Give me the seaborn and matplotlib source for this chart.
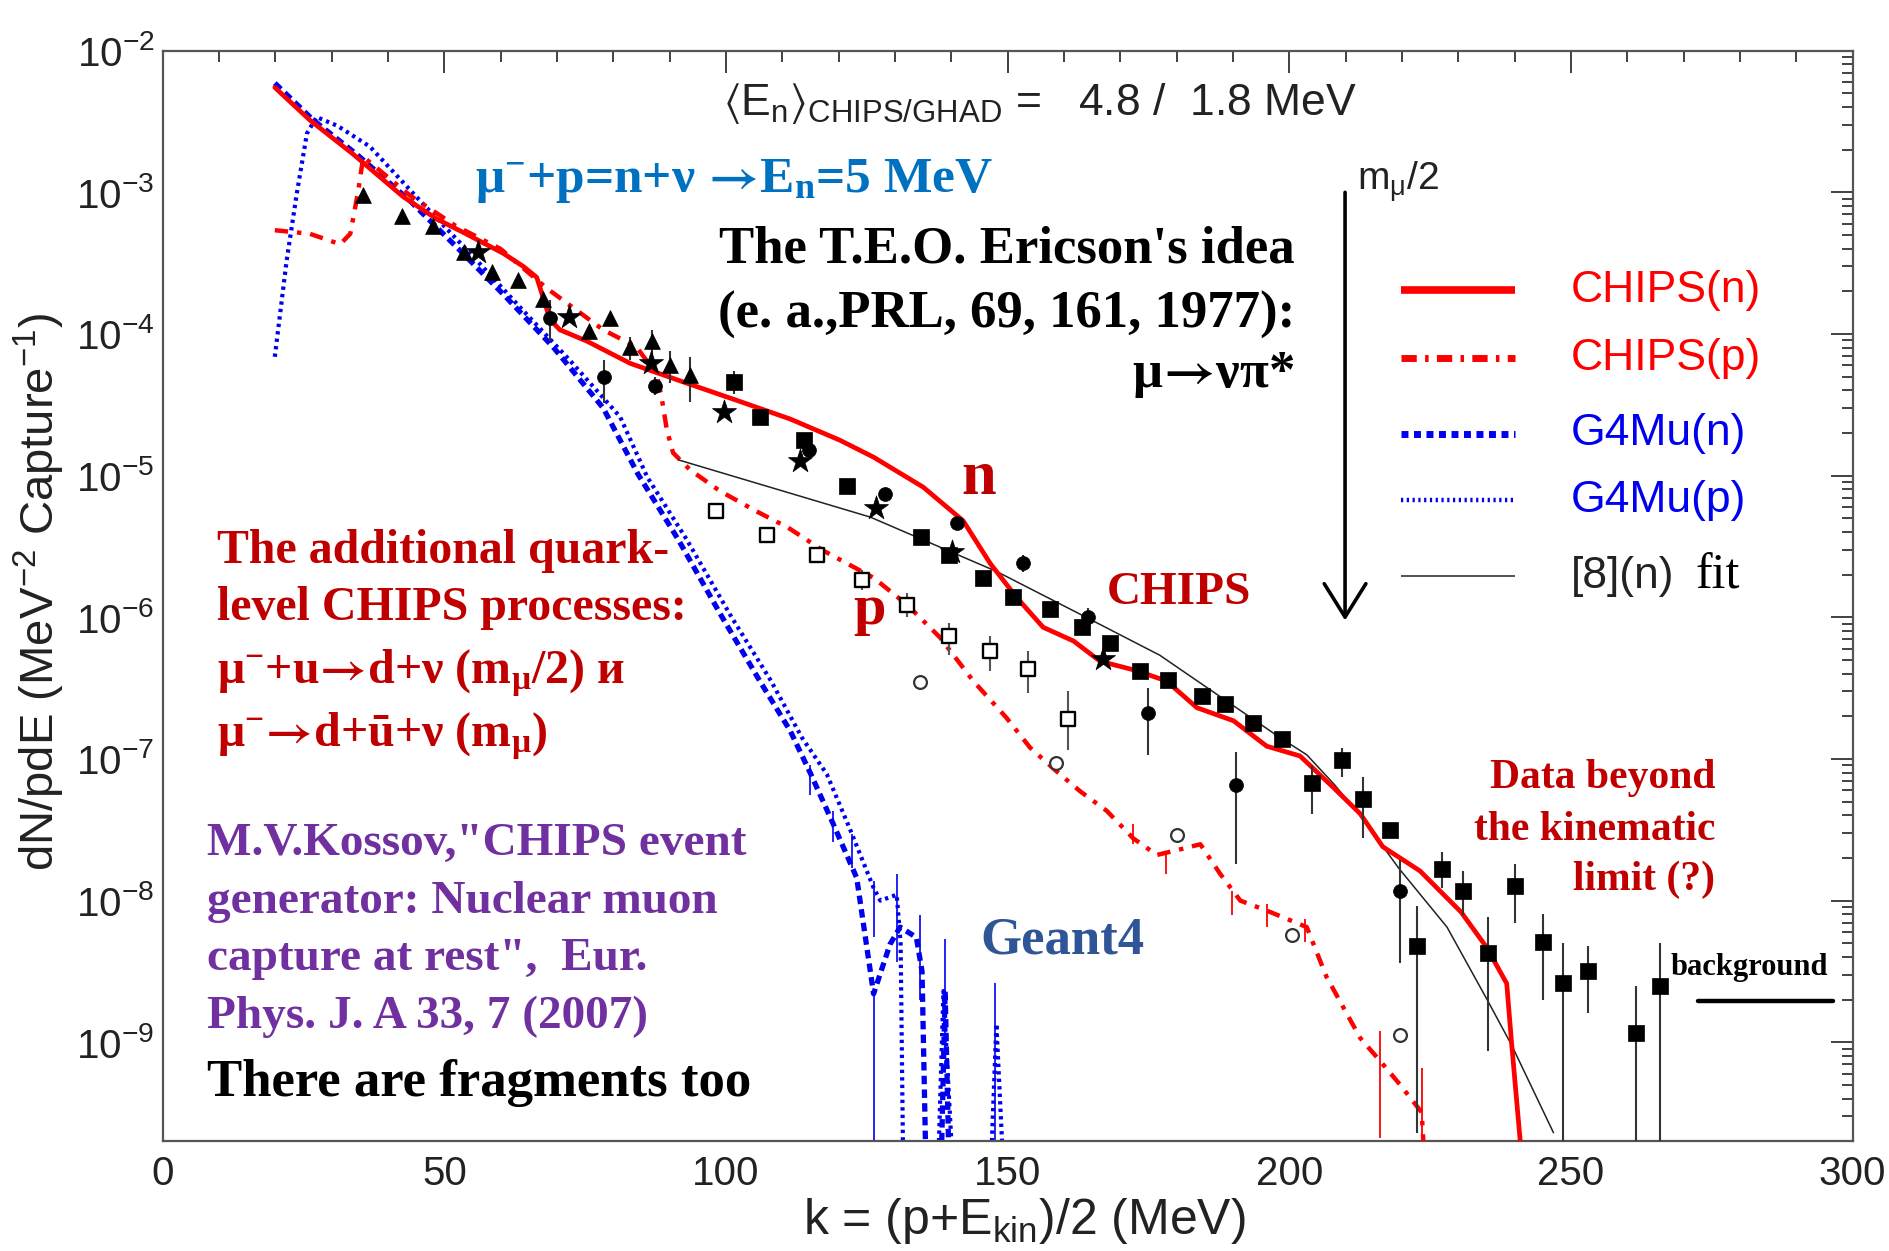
import numpy as np
import matplotlib
matplotlib.use("Agg")
import matplotlib.pyplot as plt
import seaborn as sns
from matplotlib.ticker import MultipleLocator, LogLocator, NullFormatter

# ---------------- data ----------------
# CHIPS(n) - red solid
chips_n_x = [19.9, 26.1, 33.8, 42.7, 48.6, 53.4, 60.5, 64.0, 66.4, 68.0, 68.8, 70.5, 75.3, 83.0,
             93.0, 101.9, 111.4, 120.2, 126.2, 135.0, 142.1, 146.9, 151.6, 156.3, 161.7, 166.4,
             172.9, 178.2, 183.6, 190.1, 196.0, 201.9, 207.8, 212.6, 216.6, 223.2, 230.5, 235.0,
             238.6, 239.5, 241.0]
chips_n_y = [5.5e-3, 3.24e-3, 1.86e-3, 9.3e-4, 6.5e-4, 5.2e-4, 3.7e-4, 3.0e-4, 2.51e-4, 1.58e-4,
             1.26e-4, 1.07e-4, 8.9e-5, 6.2e-5, 4.5e-5, 3.4e-5, 2.51e-5, 1.78e-5, 1.35e-5, 8.3e-6,
             4.8e-6, 2.4e-6, 1.38e-6, 8.5e-7, 6.8e-7, 4.9e-7, 4.2e-7, 3.55e-7, 2.3e-7, 1.86e-7,
             1.23e-7, 1.05e-7, 6.3e-8, 4.1e-8, 2.4e-8, 1.62e-8, 8.3e-9, 4.7e-9, 2.6e-9, 9.5e-10,
             2.0e-10]

# CHIPS(p) - red dash-dot
chips_p_x = [19.9, 26.1, 31.5, 33.3, 34.7, 35.6, 43.9, 52.0, 60.0, 68.2, 78.2, 84.1, 87.7, 88.6,
             89.5, 90.6, 93.6, 98.9, 105.4, 111.0, 117.3, 126.2, 132.1, 138.0, 143.9, 149.8, 154.0,
             158.5, 162.9, 167.6, 172.3, 176.5, 180.6, 184.2, 187.7, 191.3, 196.0, 203.1, 206.6,
             212.6, 216.1, 219.7, 223.5, 223.8]
chips_p_y = [5.4e-4, 5.1e-4, 4.3e-4, 5.1e-4, 1.02e-3, 1.78e-3, 9.5e-4, 5.8e-4, 3.98e-4, 2.1e-4,
             1.07e-4, 8.1e-5, 5.2e-5, 3.5e-5, 2.1e-5, 1.45e-5, 1.1e-5, 7.8e-6, 5.6e-6, 4.3e-6,
             2.95e-6, 1.9e-6, 1.23e-6, 7.2e-7, 3.55e-7, 1.95e-7, 1.2e-7, 8.3e-8, 5.9e-8, 4.3e-8,
             2.75e-8, 2.1e-8, 2.3e-8, 2.5e-8, 1.55e-8, 1.0e-8, 8.5e-9, 6.5e-9, 2.9e-9, 1.07e-9,
             7.4e-10, 5.0e-10, 3.2e-10, 2.0e-10]
chips_p_err_x = [172.3, 178.2, 189.8, 196.0, 202.8, 216.1, 223.5]
chips_p_err_lo = [2.5e-8, 1.55e-8, 7.9e-9, 6.5e-9, 5.1e-9, 2.1e-10, 2.0e-10]
chips_p_err_hi = [3.5e-8, 2.24e-8, 1.17e-8, 9.5e-9, 7.4e-9, 1.2e-9, 6.6e-10]

# G4Mu(n) - blue dashed
g4n_x = [19.9, 26.7, 34.4, 43.9, 52.2, 60.5, 69.3, 78.2, 84.4, 91.5, 99.2, 106.0, 111.4, 115.0,
         119.0, 123.2, 126.2, 129.1, 130.9, 133.8, 134.8, 135.4]
g4n_y = [5.9e-3, 3.24e-3, 1.86e-3, 8.7e-4, 4.1e-4, 1.9e-4, 8.1e-5, 3.0e-5, 1.02e-5, 3.55e-6,
         1.02e-6, 3.55e-7, 1.58e-7, 7.9e-8, 3.5e-8, 1.45e-8, 2.2e-9, 4.9e-9, 6.5e-9, 5.5e-9,
         3.16e-9, 2.0e-10]
g4n_spike_x = [138.3, 138.9, 139.5]
g4n_spike_y = [2.0e-10, 2.3e-9, 2.0e-10]

# G4Mu(p) - blue dotted
g4p_x = [19.9, 22.0, 23.8, 25.6, 27.3, 31.0, 36.8, 45.7, 54.6, 63.4, 72.3, 81.2, 86.0, 93.0,
         101.0, 108.0, 113.5, 117.9, 122.0, 126.2, 127.4, 130.3, 131.0, 131.4]
g4p_y = [6.9e-5, 3.3e-4, 9.8e-4, 2.6e-3, 3.4e-3, 2.95e-3, 2.1e-3, 8.7e-4, 3.7e-4, 1.55e-4,
         6.5e-5, 2.6e-5, 9.8e-6, 3.55e-6, 1.0e-6, 3.55e-7, 1.41e-7, 7.8e-8, 3.2e-8, 1.23e-8,
         1.0e-8, 1.1e-8, 5.0e-9, 2.0e-10]
g4p_spike_x = [137.8, 138.6, 140.0, 147.2, 148.0, 149.0]
g4p_spike_y = [2.0e-10, 2.3e-9, 2.0e-10, 2.0e-10, 1.35e-9, 2.0e-10]
g4p_spike_id = [1, 1, 1, 2, 2, 2]

g4_err_x = [114.9, 119.0, 122.3, 126.2, 126.2, 130.3, 134.4, 138.9, 147.8]
g4_err_lo = [5.6e-8, 2.6e-8, 1.7e-8, 5.5e-9, 2.0e-10, 3.7e-9, 2.0e-9, 9.1e-10, 2.0e-10]
g4_err_hi = [9.1e-8, 4.3e-8, 2.95e-8, 1.38e-8, 2.2e-9, 1.55e-8, 7.9e-9, 5.4e-9, 2.6e-9]

# [8](n) fit - thin black
fit_x = [91.6, 125.6, 148.1, 162.9, 177.0, 198.4, 203.1, 208.0, 213.0, 219.4, 228.0, 235.0,
         239.5, 246.9]
fit_y = [1.29e-5, 5.1e-6, 2.1e-6, 1.05e-6, 5.4e-7, 1.41e-7, 1.07e-7, 6.6e-8, 3.8e-8, 1.7e-8,
         6.5e-9, 2.04e-9, 9.5e-10, 2.3e-10]

# experimental points
tri_x = [35.5, 42.4, 47.9, 53.4, 58.4, 63.1, 67.5, 75.6, 79.4, 83.0, 86.8, 90.1, 93.6]
tri_y = [9.5e-4, 6.8e-4, 5.75e-4, 3.8e-4, 2.75e-4, 2.4e-4, 1.78e-4, 1.05e-4, 1.29e-4, 8.1e-5,
         8.9e-5, 6.0e-5, 5.1e-5]
tri_lo = [9.5e-4, 6.8e-4, 5.75e-4, 3.8e-4, 2.75e-4, 2.4e-4, 1.78e-4, 1.05e-4, 1.29e-4, 6.5e-5,
          6.9e-5, 4.5e-5, 3.3e-5]
tri_hi = [9.5e-4, 6.8e-4, 5.75e-4, 3.8e-4, 2.75e-4, 2.4e-4, 1.78e-4, 1.05e-4, 1.29e-4, 9.5e-5,
          1.07e-4, 7.6e-5, 6.9e-5]

star_x = [56.0, 72.2, 86.7, 99.7, 113.1, 126.7, 140.2, 167.0]
star_y = [3.8e-4, 1.32e-4, 6.2e-5, 2.8e-5, 1.26e-5, 5.9e-6, 2.9e-6, 5.1e-7]

circ_x = [68.7, 78.3, 87.4, 114.8, 128.3, 141.0, 152.8, 164.3, 175.0, 190.6, 219.7]
circ_y = [1.29e-4, 5.0e-5, 4.3e-5, 1.51e-5, 7.4e-6, 4.6e-6, 2.4e-6, 1.0e-6, 2.1e-7, 6.5e-8, 1.17e-8]
circ_lo = [8.9e-5, 3.24e-5, 3.7e-5, 1.51e-5, 7.4e-6, 4.6e-6, 2.1e-6, 8.5e-7, 1.07e-7, 1.82e-8, 3.6e-9]
circ_hi = [1.74e-4, 6.5e-5, 5.0e-5, 1.51e-5, 7.4e-6, 4.6e-6, 2.75e-6, 1.17e-6, 3.16e-7, 1.12e-7, 1.95e-8]

sq_x = [101.4, 106.0, 113.9, 121.5, 134.6, 139.6, 145.7, 151.0, 157.5, 163.2, 168.2, 173.5,
        178.5, 184.5, 188.6, 193.6, 198.7, 204.0, 209.3, 213.1, 217.9, 222.6, 227.1, 230.9,
        235.2, 240.0, 245.1, 248.6, 253.1, 261.6, 265.8]
sq_y = [4.6e-5, 2.6e-5, 1.78e-5, 8.5e-6, 3.7e-6, 2.75e-6, 1.9e-6, 1.38e-6, 1.15e-6, 8.5e-7,
        6.6e-7, 4.2e-7, 3.6e-7, 2.8e-7, 2.45e-7, 1.78e-7, 1.38e-7, 6.8e-8, 9.8e-8, 5.2e-8,
        3.16e-8, 4.8e-9, 1.66e-8, 1.17e-8, 4.3e-9, 1.26e-8, 5.1e-9, 2.6e-9, 3.16e-9, 1.17e-9, 2.5e-9]
sq_lo = [3.8e-5, 2.6e-5, 1.78e-5, 8.5e-6, 3.7e-6, 2.75e-6, 1.9e-6, 1.38e-6, 1.15e-6, 8.5e-7,
         6.6e-7, 4.2e-7, 3.6e-7, 2.8e-7, 2.45e-7, 1.78e-7, 1.38e-7, 4.1e-8, 7.4e-8, 2.75e-8,
         2.8e-8, 2.3e-10, 1.23e-8, 7.9e-9, 8.7e-10, 6.9e-9, 2.0e-9, 2.0e-10, 1.62e-9, 2.0e-10, 2.0e-10]
sq_hi = [5.5e-5, 2.6e-5, 1.78e-5, 8.5e-6, 3.7e-6, 2.75e-6, 1.9e-6, 1.38e-6, 1.15e-6, 8.5e-7,
         6.6e-7, 4.2e-7, 3.6e-7, 2.8e-7, 2.45e-7, 1.78e-7, 1.38e-7, 9.1e-8, 1.2e-7, 7.4e-8,
         3.5e-8, 9.1e-9, 2.2e-8, 1.62e-8, 7.6e-9, 1.82e-8, 8.1e-9, 5.0e-9, 4.8e-9, 2.5e-9, 5.0e-9]

osq_x = [98.3, 107.2, 116.1, 124.1, 132.1, 139.5, 146.9, 153.7, 160.8]
osq_y = [5.6e-6, 3.8e-6, 2.75e-6, 1.82e-6, 1.23e-6, 7.4e-7, 5.75e-7, 4.3e-7, 1.9e-7]
osq_lo = [5.6e-6, 3.8e-6, 2.5e-6, 1.55e-6, 1.0e-6, 5.4e-7, 4.2e-7, 2.9e-7, 1.15e-7]
osq_hi = [5.6e-6, 3.8e-6, 3.0e-6, 2.14e-6, 1.48e-6, 9.1e-7, 7.4e-7, 5.75e-7, 3.0e-7]

ocirc_x = [134.4, 158.6, 180.1, 200.4, 219.7]
ocirc_y = [3.5e-7, 9.3e-8, 2.9e-8, 5.75e-9, 1.12e-9]

# annotation geometry values
bg_x = [272.6, 296.5]
bg_y = [1.95e-9, 1.95e-9]
arrow_x = 209.9
arrow_top = 1.0e-3
arrow_tip = 9.5e-7

legend_labels = ["CHIPS(n)", "CHIPS(p)", "G4Mu(n)", "G4Mu(p)", "[8](n)"]

# ---------------- style ----------------
sns.set_style("white")
plt.rcParams.update({
    "font.family": ["Liberation Sans", "DejaVu Sans"],
    "mathtext.fontset": "custom",
    "mathtext.rm": "Liberation Sans",
    "mathtext.it": "Liberation Sans:italic",
    "mathtext.bf": "Liberation Sans:bold",
    "mathtext.default": "regular",
    "mathtext.fallback": "stix",
})

RED = "#FF0000"
DRED = "#C00000"
BLUE = "#0000F0"
SERIF = ["Liberation Serif", "DejaVu Serif"]
SANS = ["Liberation Sans", "DejaVu Sans"]
ARR = r"${\!\mathbf{\rightarrow}\!}$"

fig = plt.figure(figsize=(18.9, 12.51), dpi=100)
ax = fig.add_axes([0.0861, 0.0877, 0.8941, 0.8718])
ax.set_yscale("log")
ax.set_xlim(0, 300)
ax.set_ylim(2e-10, 1e-2)

# ---------------- curves ----------------
sns.lineplot(x=g4p_x, y=g4p_y, ax=ax, sort=False, estimator=None, color=BLUE,
             linewidth=3.0, linestyle=(0, (0.8, 1.0)), zorder=2)
sns.lineplot(x=g4p_spike_x, y=g4p_spike_y, units=g4p_spike_id, ax=ax, sort=False,
             estimator=None, color=BLUE, linewidth=3.0, linestyle=(0, (0.8, 1.0)), zorder=2)
sns.lineplot(x=g4n_x, y=g4n_y, ax=ax, sort=False, estimator=None, color=BLUE,
             linewidth=3.8, linestyle=(0, (1.6, 1.0)), zorder=2)
sns.lineplot(x=g4n_spike_x, y=g4n_spike_y, ax=ax, sort=False, estimator=None, color=BLUE,
             linewidth=3.8, linestyle=(0, (1.6, 1.0)), zorder=2)
ax.vlines(g4_err_x, g4_err_lo, g4_err_hi, color=BLUE, lw=1.2, zorder=2)

sns.lineplot(x=chips_p_x, y=chips_p_y, ax=ax, sort=False, estimator=None, color=RED,
             linewidth=3.2, linestyle=(0, (3, 2, 1, 2)), zorder=3)
ax.vlines(chips_p_err_x, chips_p_err_lo, chips_p_err_hi, color=RED, lw=1.3, zorder=3)
sns.lineplot(x=fit_x, y=fit_y, ax=ax, sort=False, estimator=None, color="#222222",
             linewidth=1.1, zorder=3)
sns.lineplot(x=chips_n_x, y=chips_n_y, ax=ax, sort=False, estimator=None, color=RED,
             linewidth=3.4, zorder=3)

# ---------------- data points ----------------
ax.vlines(tri_x, tri_lo, tri_hi, color="#333333", lw=1.5, zorder=4)
ax.vlines(circ_x, circ_lo, circ_hi, color="#333333", lw=1.5, zorder=4)
ax.vlines(sq_x, sq_lo, sq_hi, color="#333333", lw=1.5, zorder=4)
ax.vlines(osq_x, osq_lo, osq_hi, color="#555555", lw=1.5, zorder=4)

sns.scatterplot(x=tri_x, y=tri_y, ax=ax, marker="^", s=130, color="black",
                edgecolor="black", linewidth=0.5, zorder=5)
sns.scatterplot(x=star_x, y=star_y, ax=ax, marker="*", s=330, color="black",
                edgecolor="black", linewidth=0.5, zorder=5)
sns.scatterplot(x=circ_x, y=circ_y, ax=ax, marker="o", s=100, color="black",
                edgecolor="black", linewidth=0.5, zorder=5)
sns.scatterplot(x=sq_x, y=sq_y, ax=ax, marker="s", s=140, color="black",
                edgecolor="black", linewidth=0.5, zorder=5)
sns.scatterplot(x=osq_x, y=osq_y, ax=ax, marker="s", s=95, color="white",
                edgecolor="black", linewidth=1.7, zorder=5)
sns.scatterplot(x=ocirc_x, y=ocirc_y, ax=ax, marker="o", s=85, color="white",
                edgecolor="#333333", linewidth=1.6, zorder=5)

# background line and m_mu/2 arrow
sns.lineplot(x=bg_x, y=bg_y, ax=ax, sort=False, estimator=None, color="black", linewidth=3.2)
ax.annotate("", xy=(arrow_x, arrow_tip), xytext=(arrow_x, arrow_top),
            arrowprops=dict(arrowstyle="->,head_length=0.8,head_width=0.5", lw=2.6,
                            color="black", shrinkA=0, shrinkB=0, mutation_scale=30))

# ---------------- axes styling ----------------
ax.xaxis.set_major_locator(MultipleLocator(50))
ax.xaxis.set_minor_locator(MultipleLocator(10))
ax.yaxis.set_major_locator(LogLocator(base=10, numticks=20))
ax.yaxis.set_minor_locator(LogLocator(base=10, subs=np.arange(2, 10), numticks=20))
ax.yaxis.set_minor_formatter(NullFormatter())
ax.tick_params(which="both", direction="in", top=True, right=True, color="#333333",
               labelcolor="#222222", width=1.3)
ax.tick_params(which="major", length=16, labelsize=29)
ax.tick_params(which="minor", length=8)
ax.tick_params(axis="x", pad=10)
ax.tick_params(axis="y", pad=6)
for sp in ax.spines.values():
    sp.set_color("#555555")
    sp.set_linewidth(1.6)
ax.set_xlabel("")
ax.set_ylabel("")

fig.text(0.542, 0.024, "k = (p+E$_{kin}$)/2 (MeV)", fontsize=36, ha="center",
         va="center", color="#222222")
fig.text(0.021, 0.527, "dN/pdE (MeV$^{-2}$ Capture$^{-1}$)", fontsize=34, rotation=90,
         ha="center", va="center", color="#222222")

# ---------------- legend (manual, ROOT style) ----------------
leg_y = [0.7801, 0.7182, 0.6486, 0.5878, 0.5182]
leg_styles = [dict(color=RED, lw=5.5, ls="-"),
              dict(color=RED, lw=5.0, ls=(0, (2.2, 1.2, 0.5, 1.2))),
              dict(color=BLUE, lw=5.0, ls=(0, (1.0, 0.8))),
              dict(color=BLUE, lw=3.2, ls=(0, (0.5, 0.8))),
              dict(color="#333333", lw=1.2, ls="-")]
leg_colors = [RED, RED, BLUE, BLUE, "#222222"]
for yy, st, lab, col in zip(leg_y, leg_styles, legend_labels, leg_colors):
    ax.plot([0.733, 0.800], [yy, yy], transform=ax.transAxes, solid_capstyle="butt", **st)
    ax.text(0.8331, yy, lab, transform=ax.transAxes, fontsize=32, color=col,
            family=SANS, va="center", ha="left")
ax.text(0.907, leg_y[4], "fit", transform=ax.transAxes, fontsize=36, color="black",
        family=SERIF, va="center", ha="left")

# ---------------- annotations ----------------
def btext(x, y, s, size, color, ha="left", transform=None):
    ax.text(x, y, s, fontsize=size, color=color, family=SERIF, weight="bold", ha=ha,
            va="baseline", transform=transform if transform is not None else ax.transAxes,
            math_fontfamily="stix")

ax.text(0.3317, 0.941, r"$\mathrm{\langle}$E$_{n}\mathrm{\rangle}_{CHIPS/GHAD}$ =   4.8 /  1.8 MeV",
        transform=ax.transAxes, fontsize=32, color="#222222", family=SANS, va="baseline",
        math_fontfamily="stixsans")
btext(0.185, 0.8707, "μ$^{-}$+p=n+ν " + ARR + "E$_{n}$=5 MeV", 37, "#0070C0")
btext(0.670, 0.8055, "The T.E.O. Ericson's idea", 38, "black", ha="right")
btext(0.670, 0.7459, "(e. a.,PRL, 69, 161, 1977):", 38, "black", ha="right")
btext(0.670, 0.6912, "μ" + ARR + "νπ*", 38, "black", ha="right")

btext(0.0321, 0.5304, "The additional quark-", 34.5, DRED)
btext(0.0321, 0.4780, "level CHIPS processes:", 34.5, DRED)
btext(0.0321, 0.4201, "μ$^{-}$+u" + ARR + "d+ν (m$_{μ}$/2) и", 34.5, DRED)
btext(0.0321, 0.3620, "μ$^{-}$" + ARR + "d+ū+ν (m$_{μ}$)", 34.5, DRED)

PURPLE = "#7030A0"
btext(0.0264, 0.2626, "M.V.Kossov,\"CHIPS event", 34, PURPLE)
btext(0.0264, 0.2092, "generator: Nuclear muon", 34, PURPLE)
btext(0.0264, 0.1573, "capture at rest\",  Eur.", 34, PURPLE)
btext(0.0264, 0.1039, "Phys. J. A 33, 7 (2007)", 34, PURPLE)
btext(0.0264, 0.0411, "There are fragments too", 38, "black")

btext(144.8, 7.4e-6, "n", 45, DRED, ha="center", transform=ax.transData)
btext(125.4, 8.9e-7, "p", 42, DRED, ha="center", transform=ax.transData)
btext(167.6, 1.24e-6, "CHIPS", 34, DRED, transform=ax.transData)
btext(145.1, 4.2e-9, "Geant4", 38, "#2F5597", transform=ax.transData)

btext(0.9187, 0.3238, "Data beyond", 30, DRED, ha="right")
btext(0.9187, 0.2764, "the kinematic", 30, DRED, ha="right")
btext(0.9187, 0.2305, "limit (?)", 30, DRED, ha="right")
btext(267.6, 3.0e-9, "background", 22, "black", transform=ax.transData)

ax.text(212.0, 1.035e-3, "m$_{μ}$/2", fontsize=28, color="#222222", family=SANS,
        va="baseline", ha="left")

fig.savefig("out.png", dpi=100)
